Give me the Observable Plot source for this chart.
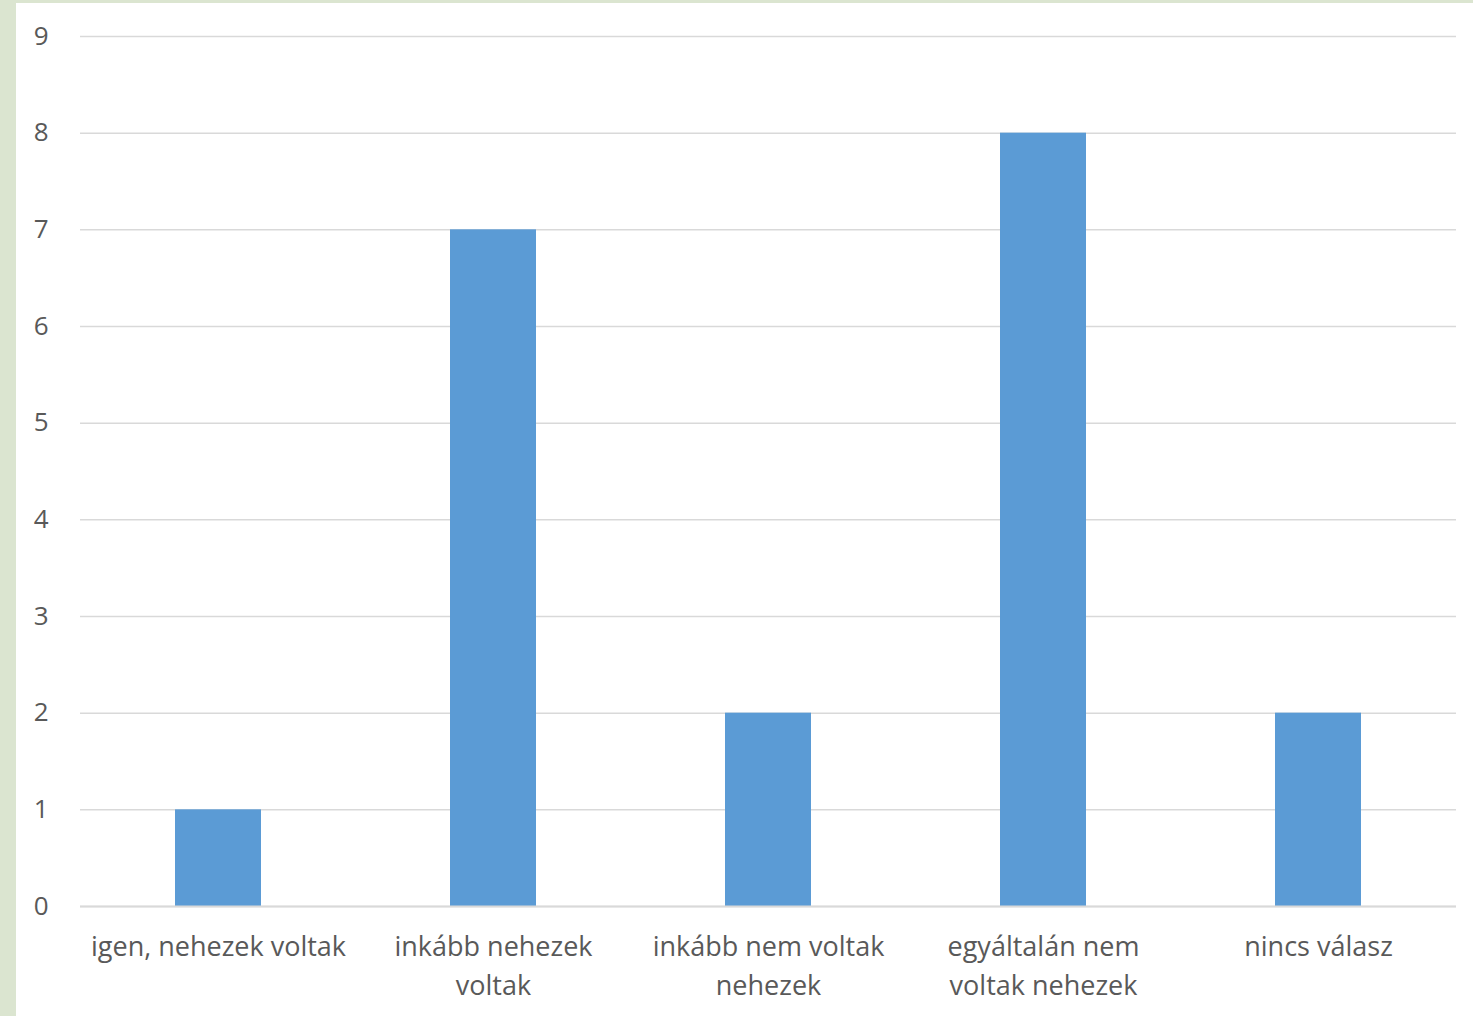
<!DOCTYPE html>
<html>
<head>
<meta charset="utf-8">
<script src="https://cdn.jsdelivr.net/npm/d3@7"></script>
<script src="https://cdn.jsdelivr.net/npm/@observablehq/plot@0.6"></script>
<style>
  html, body { margin: 0; padding: 0; background: #dbe5d0; }
  #chart { position: absolute; left: 16px; top: 3px; width: 1457px; height: 1013px; background: #fff; }
  svg { display: block; }
</style>
</head>
<body>
<div id="chart"></div>
<script>
const categories = ["igen, nehezek voltak", "inkább nehezek voltak", "inkább nem voltak nehezek", "egyáltalán nem voltak nehezek", "nincs válasz"];
const tickLabels = ["igen, nehezek voltak", "inkább nehezek\nvoltak", "inkább nem voltak\nnehezek", "egyáltalán nem\nvoltak nehezek", "nincs válasz"];
const values = [1, 7, 2, 8, 2];
const yTicks = [0, 1, 2, 3, 4, 5, 6, 7, 8, 9];

const data = categories.map((c, i) => ({category: c, value: values[i]}));
const labelOf = new Map(categories.map((c, i) => [c, tickLabels[i]]));

const chart = Plot.plot({
  width: 1457,
  height: 1013,
  marginLeft: 64,
  marginRight: 17,
  marginTop: 33,
  marginBottom: 110,
  style: {fontFamily: "'Open Sans', sans-serif", fontSize: "26px", color: "#595959", background: "white"},
  x: {domain: categories, paddingInner: 0.687, paddingOuter: 0.3435, label: null},
  y: {domain: [0, 9], label: null},
  marks: [
    Plot.gridY(yTicks, {stroke: "#d9d9d9", strokeOpacity: 1, strokeWidth: 1.5}),
    Plot.barY(data, {x: "category", y: "value", fill: "#5b9bd5"}),
    Plot.ruleY([0], {stroke: "#d9d9d9", strokeWidth: 2}),
    Plot.axisY(yTicks, {tickSize: 0, tickPadding: 32, fontSize: 26, fill: "#595959", label: null, tickFormat: d => String(d)}),
    Plot.axisX({tickSize: 0, tickPadding: 22, fontSize: 27, fill: "#595959", label: null, lineHeight: 1.44, tickFormat: d => labelOf.get(d)})
  ]
});
document.getElementById("chart").appendChild(chart);
</script>
</body>
</html>
